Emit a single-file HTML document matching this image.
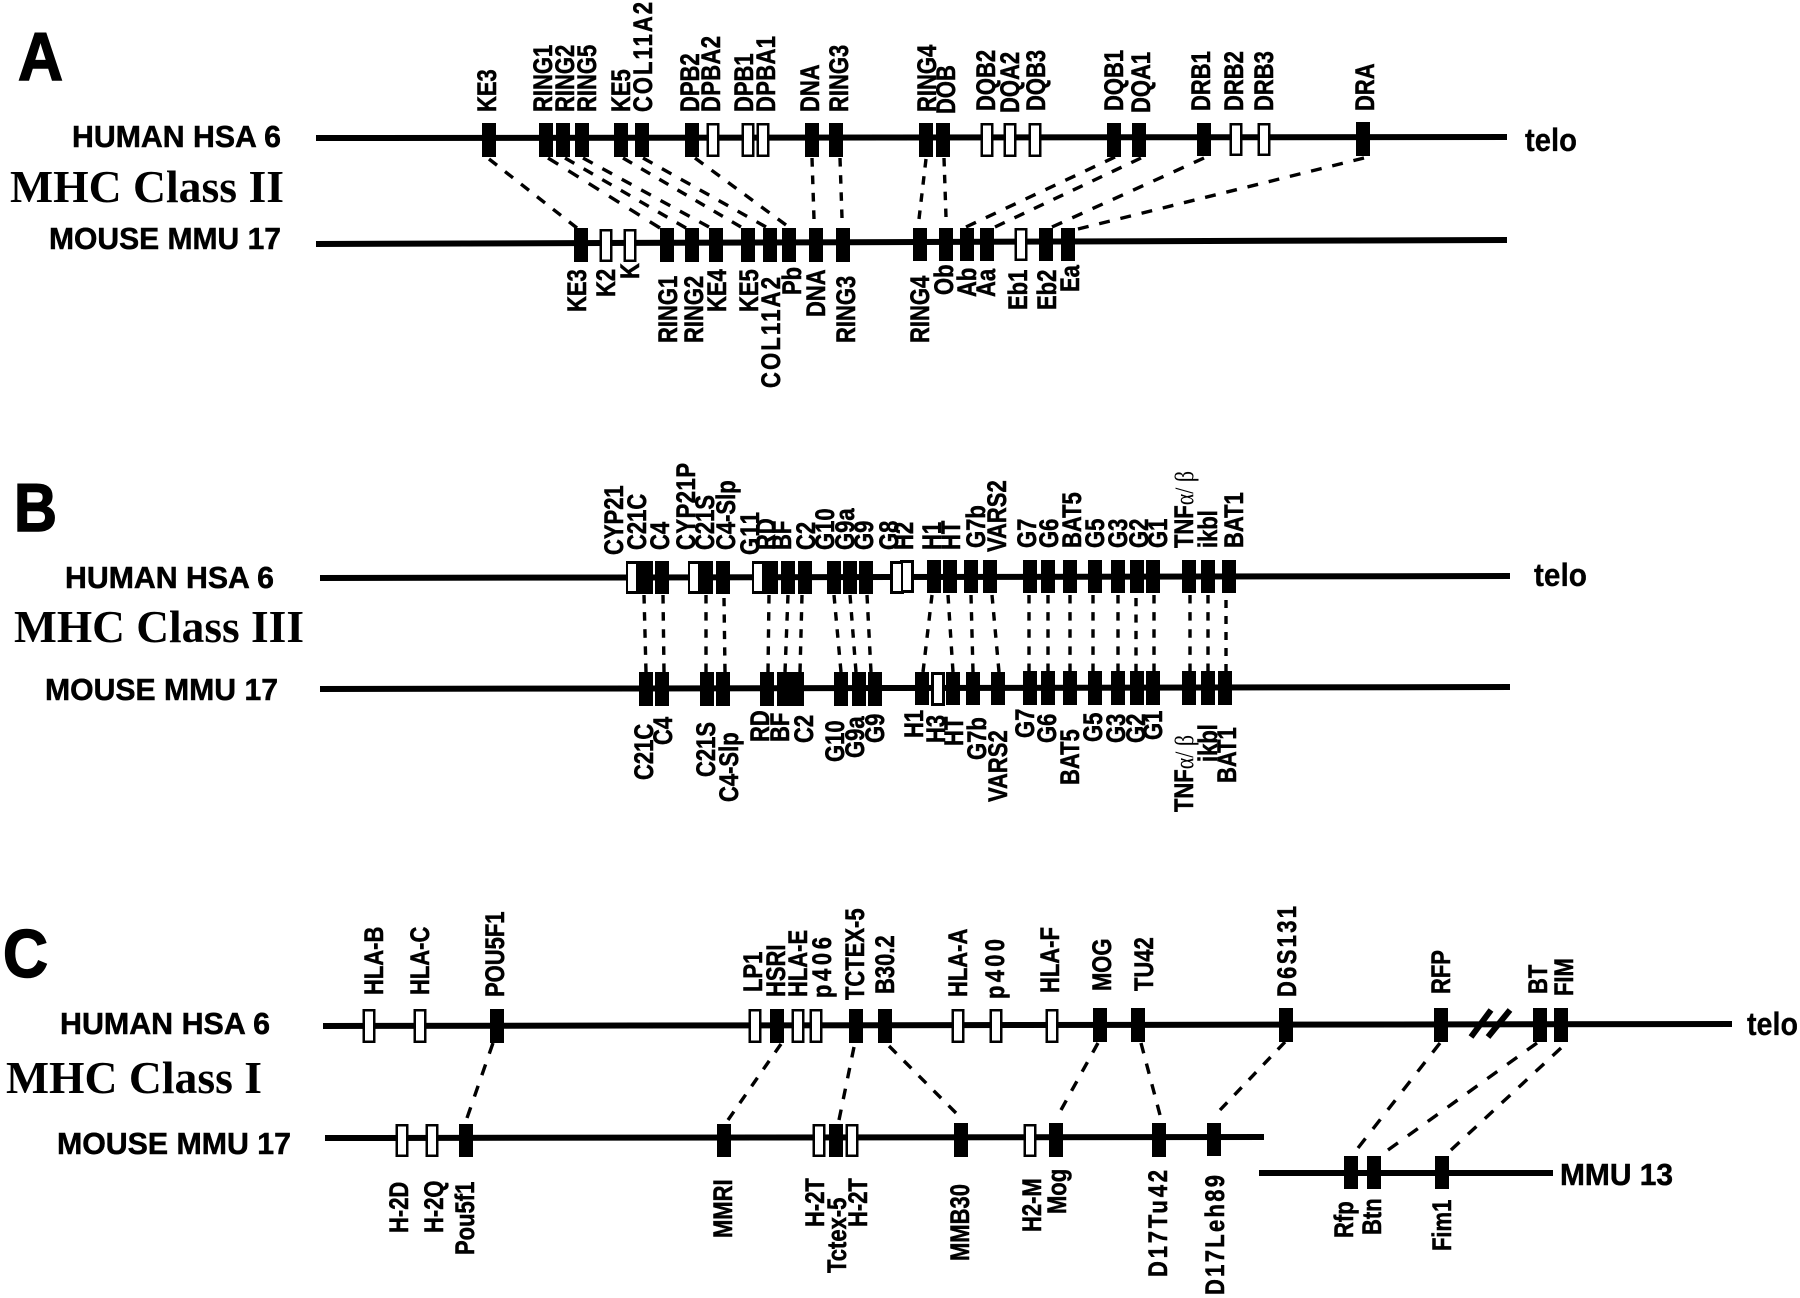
<!DOCTYPE html>
<html>
<head>
<meta charset="utf-8">
<style>
html,body{margin:0;padding:0;background:#fff}
svg{display:block}
text{font-family:"Liberation Sans",Arial,sans-serif;font-weight:bold;fill:#000}
.g text{font-size:22px;stroke:#000;stroke-width:.45px}
.side{font-size:31px;stroke:#000;stroke-width:.5px}
.mhc{font-family:"Liberation Serif",serif;font-size:46px;font-weight:bold}
.big{font-size:68px;stroke:#000;stroke-width:1.5px}
.telo{font-size:32px;stroke:#000;stroke-width:.3px}
.l{stroke:#000;stroke-width:6;fill:none}
.b{stroke:#000;stroke-width:14;fill:none}
.bw{stroke:#000;stroke-width:13;fill:none}
.w{stroke:#fff;stroke-width:8;fill:none}
.d path{stroke:#000;stroke-width:3.4;fill:none;stroke-dasharray:1 1}
.sym{font-family:"Liberation Serif",serif;font-weight:normal;stroke:none}
</style>
</head>
<body>
<svg width="1800" height="1298" viewBox="0 0 1800 1298" xmlns="http://www.w3.org/2000/svg">
<rect width="1800" height="1298" fill="#fff"/>

<!-- PANEL A -->
<text class="big" x="18" y="80" textLength="45" lengthAdjust="spacingAndGlyphs">A</text>
<text class="side" x="72" y="147" textLength="209" lengthAdjust="spacingAndGlyphs">HUMAN HSA 6</text>
<text class="mhc" x="10" y="202" textLength="274" lengthAdjust="spacingAndGlyphs">MHC Class II</text>
<text class="side" x="49" y="249" textLength="232" lengthAdjust="spacingAndGlyphs">MOUSE MMU 17</text>
<text class="telo" x="1525" y="151" textLength="52" lengthAdjust="spacingAndGlyphs">telo</text>
<path class="l" d="M316 138L1507 137M316 244L1507 240"/>
<path class="bw" d="M713 123V157M748 123V157M763 123V157M987 123V157M1010 123V157M1035 123V157M1236 123V156M1264 123V156"/>
<path class="w" d="M713 125.500V154.500M748 125.500V154.500M763 125.500V154.500M987 125.500V154.500M1010 125.500V154.500M1035 125.500V154.500M1236 125.500V153.500M1264 125.500V153.500"/>
<path class="b" d="M489 123V157M546 123V157M563 123V157M582 123V157M621 123V157M642 123V157M692 123V157M812 123V157M836 123V157M926 123V157M943 123V157M1114 123V157M1139 123V157M1204 123V156M1363 122V156"/>
<path class="bw" d="M606 229V262M630 229V262M1021 228V261"/>
<path class="w" d="M606 231.500V259.500M630 231.500V259.500M1021 230.500V258.500"/>
<path class="b" d="M581 228V262M667 228V262M692 228V262M716 228V262M748 228V262M770 228V262M789 228V262M816 228V262M843 228V262M920 228V261M946 228V261M967 228V261M987 228V261M1046 228V261M1068 228V261"/>
<g class="d">
<path pathLength="11" d="M489 159L577 228"/>
<path pathLength="11" d="M548 158L660 228"/>
<path pathLength="13" d="M565 158L686 228"/>
<path pathLength="13" d="M583 158L709 227"/>
<path pathLength="13" d="M623 158L741 227"/>
<path pathLength="13" d="M643 158L766 227"/>
<path pathLength="11" d="M695 158L786 225"/>
<path pathLength="7" d="M812 158L814 219"/>
<path pathLength="7" d="M840 158L842 218"/>
<path pathLength="7" d="M926 159L919 219"/>
<path pathLength="7" d="M944 158L946 217"/>
<path pathLength="15" d="M1115 157L966 227"/>
<path pathLength="15" d="M1141 158L995 227"/>
<path pathLength="15" d="M1204 158L1052 227"/>
<path pathLength="27" d="M1364 158L1078 229"/>
</g>
<g class="g">
<text transform="matrix(0 -1 1.2 0 496 112)">KE3</text>
<text transform="matrix(0 -1 1.2 0 552 112)">RING1</text>
<text transform="matrix(0 -1 1.2 0 574 112)">RING2</text>
<text transform="matrix(0 -1 1.2 0 596 112)">RING5</text>
<text transform="matrix(0 -1 1.2 0 630 112)">KE5</text>
<text transform="matrix(0 -1 1.2 0 652 112)" textLength="110">COL11A2</text>
<text transform="matrix(0 -1 1.2 0 699 112)">DPB2</text>
<text transform="matrix(0 -1 1.2 0 720 112)" textLength="76">DPBA2</text>
<text transform="matrix(0 -1 1.2 0 753 112)">DPB1</text>
<text transform="matrix(0 -1 1.2 0 775 112)" textLength="76">DPBA1</text>
<text transform="matrix(0 -1 1.2 0 819 112)">DNA</text>
<text transform="matrix(0 -1 1.2 0 848 112)">RING3</text>
<text transform="matrix(0 -1 1.2 0 936 112)">RING4</text>
<text transform="matrix(0 -1 1.2 0 955 114)">DOB</text>
<text transform="matrix(0 -1 1.2 0 995 111)">DQB2</text>
<text transform="matrix(0 -1 1.2 0 1019 113)">DQA2</text>
<text transform="matrix(0 -1 1.2 0 1045 111)">DQB3</text>
<text transform="matrix(0 -1 1.2 0 1123 111)">DQB1</text>
<text transform="matrix(0 -1 1.2 0 1150 113)">DQA1</text>
<text transform="matrix(0 -1 1.2 0 1210 111)">DRB1</text>
<text transform="matrix(0 -1 1.2 0 1243 111)">DRB2</text>
<text transform="matrix(0 -1 1.2 0 1273 111)">DRB3</text>
<text transform="matrix(0 -1 1.2 0 1374 111)">DRA</text>

<text transform="matrix(0 -1 1.2 0 586 312)">KE3</text>
<text transform="matrix(0 -1 1.2 0 615 297)">K2</text>
<text transform="matrix(0 -1 1.2 0 639 279)">K</text>
<text transform="matrix(0 -1 1.2 0 677 343)">RING1</text>
<text transform="matrix(0 -1 1.2 0 703 343)">RING2</text>
<text transform="matrix(0 -1 1.2 0 726 312)">KE4</text>
<text transform="matrix(0 -1 1.2 0 758 312)">KE5</text>
<text transform="matrix(0 -1 1.2 0 780 388)" textLength="111">COL11A2</text>
<text transform="matrix(0 -1 1.2 0 801 295)">Pb</text>
<text transform="matrix(0 -1 1.2 0 825 317)">DNA</text>
<text transform="matrix(0 -1 1.2 0 855 343)">RING3</text>
<text transform="matrix(0 -1 1.2 0 929 343)">RING4</text>
<text transform="matrix(0 -1 1.2 0 953 295)">Ob</text>
<text transform="matrix(0 -1 1.2 0 976 297)">Ab</text>
<text transform="matrix(0 -1 1.2 0 995 297)">Aa</text>
<text transform="matrix(0 -1 1.2 0 1027 310)">Eb1</text>
<text transform="matrix(0 -1 1.2 0 1056 310)">Eb2</text>
<text transform="matrix(0 -1 1.2 0 1079 292)">Ea</text>
</g>

<!-- PANEL B -->
<text class="big" x="14" y="531" textLength="43" lengthAdjust="spacingAndGlyphs">B</text>
<text class="side" x="65" y="588" textLength="209" lengthAdjust="spacingAndGlyphs">HUMAN HSA 6</text>
<text class="mhc" x="14" y="642" textLength="290" lengthAdjust="spacingAndGlyphs">MHC Class III</text>
<text class="side" x="45" y="700" textLength="233" lengthAdjust="spacingAndGlyphs">MOUSE MMU 17</text>
<text class="telo" x="1534" y="586" textLength="53" lengthAdjust="spacingAndGlyphs">telo</text>
<path class="l" d="M320 578L1510 576M320 689L1510 687"/>
<path class="b" d="M633 561V594M695 561V594M759 561V594M897 561V594M907 560V593"/>
<path class="w" d="M632 564V591M694 564V591M758 564V591M897 564V591M907 563V590"/>
<path class="b" d="M646 561V594M662 561V594M706 561V594M723 561V594M771 561V594M788 561V594M805 561V594M834 561V594M850 561V594M866 561V594M934 560V593M950 560V593M971 560V593M990 560V593M1030 560V593M1048 560V593M1070 560V593M1095 560V593M1118 560V593M1137 560V593M1153 560V593M1189 560V593M1208 560V593M1229 560V593"/>
<path class="b" d="M938 672V706"/>
<path class="w" d="M938 675V703"/>
<path class="b" d="M646 672V706M662 672V706M707 672V706M723 672V706M767 672V706M784 672V706M797 672V706M841 672V706M859 672V706M875 672V706M922 672V705M953 672V705M973 672V705M998 672V705M1030 671V705M1048 671V705M1070 671V705M1095 671V705M1118 671V705M1137 671V705M1153 671V705M1189 671V705M1208 671V705M1225 671V705"/>
<g class="d">
<path pathLength="9" d="M644 595L646 672"/>
<path pathLength="9" d="M663 595L664 672"/>
<path pathLength="9" d="M706 595L706 672"/>
<path pathLength="9" d="M724 598L725 672"/>
<path pathLength="9" d="M769 595L768 672"/>
<path pathLength="9" d="M788 595L785 672"/>
<path pathLength="9" d="M802 595L800 672"/>
<path pathLength="9" d="M834 595L841 672"/>
<path pathLength="9" d="M850 595L856 672"/>
<path pathLength="9" d="M867 595L871 672"/>
<path pathLength="9" d="M932 595L923 672"/>
<path pathLength="9" d="M948 595L953 672"/>
<path pathLength="9" d="M971 595L973 672"/>
<path pathLength="9" d="M992 595L999 672"/>
<path pathLength="9" d="M1029 595V672"/>
<path pathLength="9" d="M1048 595V672"/>
<path pathLength="9" d="M1070 595V672"/>
<path pathLength="9" d="M1093 595V672"/>
<path pathLength="9" d="M1118 595V672"/>
<path pathLength="9" d="M1136 598V672"/>
<path pathLength="9" d="M1154 595V672"/>
<path pathLength="9" d="M1190 595V672"/>
<path pathLength="9" d="M1208 595V672"/>
<path pathLength="9" d="M1226 600V672"/>
</g>
<g class="g">
<text transform="matrix(0 -1 1.2 0 623 555)">CYP21</text>
<text transform="matrix(0 -1 1.2 0 646 550)">C21C</text>
<text transform="matrix(0 -1 1.2 0 669 550)">C4</text>
<text transform="matrix(0 -1 1.2 0 695 550)" textLength="87">CYP21P</text>
<text transform="matrix(0 -1 1.2 0 714 550)">C21S</text>
<text transform="matrix(0 -1 1.2 0 735 550)">C4-Slp</text>
<text transform="matrix(0 -1 1.2 0 759 555)" textLength="43">G11</text>
<text transform="matrix(0 -1 1.2 0 775 550)">RD</text>
<text transform="matrix(0 -1 1.2 0 791 550)">BF</text>
<text transform="matrix(0 -1 1.2 0 815 550)">C2</text>
<text transform="matrix(0 -1 1.2 0 834 550)">G10</text>
<text transform="matrix(0 -1 1.2 0 854 550)">G9a</text>
<text transform="matrix(0 -1 1.2 0 873 550)">G9</text>
<text transform="matrix(0 -1 1.2 0 898 550)">G8</text>
<text transform="matrix(0 -1 1.2 0 913 550)">H2</text>
<text transform="matrix(0 -1 1.2 0 941 550)">H1</text>
<text transform="matrix(0 -1 1.2 0 960 550)">HT</text>
<text transform="matrix(0 -1 1.2 0 985 548)">G7b</text>
<text transform="matrix(0 -1 1.2 0 1006 552)">VARS2</text>
<text transform="matrix(0 -1 1.2 0 1036 548)">G7</text>
<text transform="matrix(0 -1 1.2 0 1058 548)">G6</text>
<text transform="matrix(0 -1 1.2 0 1081 548)">BAT5</text>
<text transform="matrix(0 -1 1.2 0 1104 548)">G5</text>
<text transform="matrix(0 -1 1.2 0 1127 548)">G3</text>
<text transform="matrix(0 -1 1.2 0 1148 548)">G2</text>
<text transform="matrix(0 -1 1.2 0 1167 548)">G1</text>
<text transform="matrix(0 -1 1.2 0 1193 548)">TNF<tspan class="sym">α/ β</tspan></text>
<text transform="matrix(0 -1 1.2 0 1217 548)">ikbl</text>
<text transform="matrix(0 -1 1.2 0 1243 548)">BAT1</text>

<text transform="matrix(0 -1 1.2 0 653 780)">C21C</text>
<text transform="matrix(0 -1 1.2 0 672 745)">C4</text>
<text transform="matrix(0 -1 1.2 0 715 777)">C21S</text>
<text transform="matrix(0 -1 1.2 0 738 802)">C4-Slp</text>
<text transform="matrix(0 -1 1.2 0 769 742)">RD</text>
<text transform="matrix(0 -1 1.2 0 789 742)">BF</text>
<text transform="matrix(0 -1 1.2 0 813 743)">C2</text>
<text transform="matrix(0 -1 1.2 0 844 762)">G10</text>
<text transform="matrix(0 -1 1.2 0 864 758)">G9a</text>
<text transform="matrix(0 -1 1.2 0 884 743)">G9</text>
<text transform="matrix(0 -1 1.2 0 923 738)">H1</text>
<text transform="matrix(0 -1 1.2 0 945 743)">H3</text>
<text transform="matrix(0 -1 1.2 0 963 746)">HT</text>
<text transform="matrix(0 -1 1.2 0 986 760)">G7b</text>
<text transform="matrix(0 -1 1.2 0 1007 802)">VARS2</text>
<text transform="matrix(0 -1 1.2 0 1034 738)">G7</text>
<text transform="matrix(0 -1 1.2 0 1056 743)">G6</text>
<text transform="matrix(0 -1 1.2 0 1079 785)">BAT5</text>
<text transform="matrix(0 -1 1.2 0 1102 742)">G5</text>
<text transform="matrix(0 -1 1.2 0 1125 743)">G3</text>
<text transform="matrix(0 -1 1.2 0 1145 743)">G2</text>
<text transform="matrix(0 -1 1.2 0 1162 740)">G1</text>
<text transform="matrix(0 -1 1.2 0 1193 812)">TNF<tspan class="sym">α/ β</tspan></text>
<text transform="matrix(0 -1 1.2 0 1217 762)">ikbl</text>
<text transform="matrix(0 -1 1.2 0 1236 783)">BAT1</text>
</g>

<!-- PANEL C -->
<text class="big" x="3" y="977" textLength="45" lengthAdjust="spacingAndGlyphs">C</text>
<text class="side" x="60" y="1034" textLength="210" lengthAdjust="spacingAndGlyphs">HUMAN HSA 6</text>
<text class="mhc" x="6" y="1093" textLength="256" lengthAdjust="spacingAndGlyphs">MHC Class I</text>
<text class="side" x="57" y="1154" textLength="234" lengthAdjust="spacingAndGlyphs">MOUSE MMU 17</text>
<text class="telo" x="1747" y="1035" textLength="51" lengthAdjust="spacingAndGlyphs">telo</text>
<text class="side" x="1560" y="1185" textLength="113" lengthAdjust="spacingAndGlyphs">MMU 13</text>
<path class="l" d="M323 1026L1732 1024M325 1138L1264 1137M1259 1173H1553"/>
<path d="M1471 1037L1491 1010M1488 1037L1510 1010" stroke="#000" stroke-width="6" fill="none"/>
<path class="bw" d="M369 1009V1043M420 1009V1043M755 1009V1043M798 1009V1043M816 1009V1043M958 1009V1043M996 1009V1043M1052 1009V1043"/>
<path class="w" d="M369 1011.500V1040.500M420 1011.500V1040.500M755 1011.500V1040.500M798 1011.500V1040.500M816 1011.500V1040.500M958 1011.500V1040.500M996 1011.500V1040.500M1052 1011.500V1040.500"/>
<path class="b" d="M497 1009V1043M777 1009V1043M856 1009V1043M885 1009V1043M1100 1008V1042M1138 1008V1042M1286 1008V1042M1441 1008V1042M1540 1008V1042M1561 1008V1042"/>
<path class="bw" d="M402 1124V1157M432 1124V1157M819 1124V1157M852 1124V1157M1030 1124V1157"/>
<path class="w" d="M402 1126.500V1154.500M432 1126.500V1154.500M819 1126.500V1154.500M852 1126.500V1154.500M1030 1126.500V1154.500"/>
<path class="b" d="M466 1124V1157M724 1124V1157M836 1124V1157M961 1123V1157M1056 1123V1157M1159 1123V1157M1214 1123V1156M1351 1156V1189M1374 1156V1189M1442 1156V1189"/>
<g class="d">
<path pathLength="7" d="M493 1043L467 1118"/>
<path pathLength="9" d="M781 1044L728 1120"/>
<path pathLength="7" d="M854 1047L839 1120"/>
<path pathLength="9" d="M889 1046L956 1113"/>
<path pathLength="7" d="M1098 1043L1061 1110"/>
<path pathLength="7" d="M1141 1043L1160 1115"/>
<path pathLength="9" d="M1285 1042L1220 1110"/>
<path pathLength="11" d="M1440 1043L1358 1148"/>
<path pathLength="15" d="M1537 1043L1388 1150"/>
<path pathLength="13" d="M1561 1048L1451 1150"/>
</g>
<g class="g">
<text transform="matrix(0 -1 1.2 0 383 995)">HLA-B</text>
<text transform="matrix(0 -1 1.2 0 429 995)">HLA-C</text>
<text transform="matrix(0 -1 1.2 0 504 997)">POU5F1</text>
<text transform="matrix(0 -1 1.2 0 762 992)">LP1</text>
<text transform="matrix(0 -1 1.2 0 785 997)">HSRI</text>
<text transform="matrix(0 -1 1.2 0 807 997)">HLA-E</text>
<text transform="matrix(0 -1 1.2 0 831 998)" textLength="61">p406</text>
<text transform="matrix(0 -1 1.2 0 864 1000)">TCTEX-5</text>
<text transform="matrix(0 -1 1.2 0 894 994)">B30.2</text>
<text transform="matrix(0 -1 1.2 0 967 997)">HLA-A</text>
<text transform="matrix(0 -1 1.2 0 1004 999)" textLength="60">p400</text>
<text transform="matrix(0 -1 1.2 0 1059 993)">HLA-F</text>
<text transform="matrix(0 -1 1.2 0 1111 991)">MOG</text>
<text transform="matrix(0 -1 1.2 0 1153 991)">TU42</text>
<text transform="matrix(0 -1 1.2 0 1296 997)" textLength="91">D6S131</text>
<text transform="matrix(0 -1 1.2 0 1450 994)">RFP</text>
<text transform="matrix(0 -1 1.2 0 1547 994)">BT</text>
<text transform="matrix(0 -1 1.2 0 1573 996)">FIM</text>

<text transform="matrix(0 -1 1.2 0 408 1233)">H-2D</text>
<text transform="matrix(0 -1 1.2 0 443 1233)">H-2Q</text>
<text transform="matrix(0 -1 1.2 0 474 1255)">Pou5f1</text>
<text transform="matrix(0 -1 1.2 0 732 1238)">MMRI</text>
<text transform="matrix(0 -1 1.2 0 824 1227)">H-2T</text>
<text transform="matrix(0 -1 1.2 0 846 1273)">Tctex-5</text>
<text transform="matrix(0 -1 1.2 0 867 1227)">H-2T</text>
<text transform="matrix(0 -1 1.2 0 969 1261)">MMB30</text>
<text transform="matrix(0 -1 1.2 0 1041 1232)">H2-M</text>
<text transform="matrix(0 -1 1.2 0 1066 1214)">Mog</text>
<text transform="matrix(0 -1 1.2 0 1167 1277)" textLength="107">D17Tu42</text>
<text transform="matrix(0 -1 1.2 0 1224 1295)" textLength="120">D17Leh89</text>
<text transform="matrix(0 -1 1.2 0 1353 1238)">Rfp</text>
<text transform="matrix(0 -1 1.2 0 1381 1235)">Btn</text>
<text transform="matrix(0 -1 1.2 0 1451 1251)">Fim1</text>
</g>
</svg>
</body>
</html>
